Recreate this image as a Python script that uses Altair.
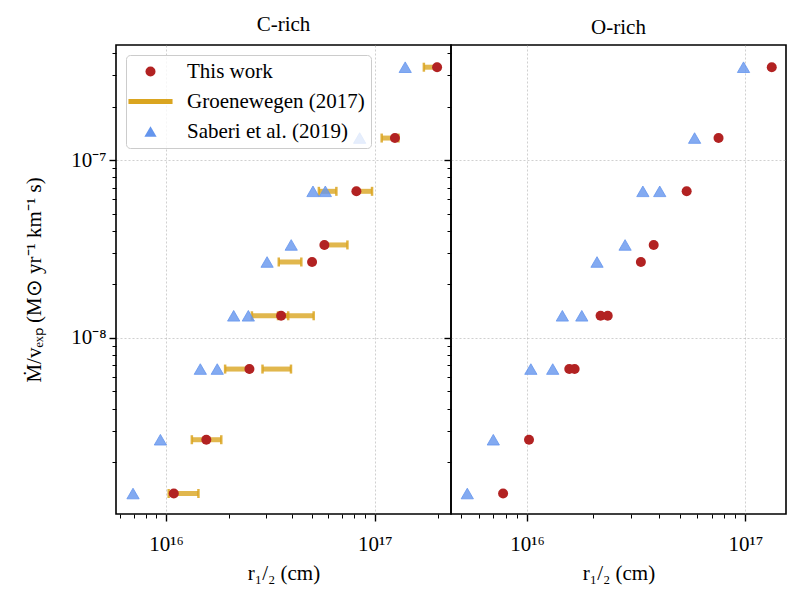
import altair as alt
import pandas as pd

FONT = "Liberation Serif"
FS = 21

SERIES = ["This work", "Groenewegen (2017)", "Saberi et al. (2019)"]
COLORS = ["#b22222", "#daa520", "#6495ed"]
RED, GOLD, BLUE = COLORS

# ---------------- C-rich panel ----------------
c_this_x = [1.09e16, 1.56e16, 2.51e16, 3.56e16, 5.01e16, 5.74e16, 8.17e16, 1.25e17, 1.99e17]
c_this_y = [1.33e-9, 2.67e-9, 6.67e-9, 1.33e-8, 2.67e-8, 3.33e-8, 6.67e-8, 1.33e-7, 3.33e-7]

c_sab_x = [6.95e15, 9.4e15, 1.46e16, 1.76e16, 2.11e16, 2.48e16, 3.05e16, 3.98e16,
           5.06e16, 5.80e16, 8.47e16, 1.40e17]
c_sab_y = [1.33e-9, 2.67e-9, 6.67e-9, 6.67e-9, 1.33e-8, 1.33e-8, 2.67e-8, 3.33e-8,
           6.67e-8, 6.67e-8, 1.33e-7, 3.33e-7]

c_gro_lo = [1.03e16, 1.33e16, 1.92e16, 2.90e16, 2.58e16, 3.44e16, 3.47e16, 5.74e16,
            5.40e16, 8.17e16, 1.08e17, 1.72e17]
c_gro_hi = [1.43e16, 1.84e16, 2.51e16, 3.97e16, 3.85e16, 5.10e16, 4.45e16, 7.40e16,
            6.55e16, 9.71e16, 1.30e17, 1.99e17]
c_gro_y = [1.33e-9, 2.67e-9, 6.67e-9, 6.67e-9, 1.33e-8, 1.33e-8, 2.67e-8, 3.33e-8,
           6.67e-8, 6.67e-8, 1.33e-7, 3.33e-7]

# ---------------- O-rich panel ----------------
o_this_x = [7.76e15, 1.02e16, 1.56e16, 1.65e16, 2.17e16, 2.34e16, 3.32e16, 3.80e16,
            5.38e16, 7.53e16, 1.32e17]
o_this_y = [1.33e-9, 2.67e-9, 6.67e-9, 6.67e-9, 1.33e-8, 1.33e-8, 2.67e-8, 3.33e-8,
            6.67e-8, 1.33e-7, 3.33e-7]

o_sab_x = [5.32e15, 7.0e15, 1.04e16, 1.31e16, 1.45e16, 1.78e16, 2.09e16, 2.81e16,
           3.39e16, 4.05e16, 5.85e16, 9.8e16]
o_sab_y = [1.33e-9, 2.67e-9, 6.67e-9, 6.67e-9, 1.33e-8, 1.33e-8, 2.67e-8, 3.33e-8,
           6.67e-8, 6.67e-8, 1.33e-7, 3.33e-7]

# ---------------- axes ----------------
X_DOMAIN_C = [5.76e15, 2.32e17]
X_DOMAIN_O = [4.48e15, 1.534e17]
Y_DOMAIN = [1.02e-9, 4.44e-7]


def log_ticks(domain, exps):
    out = []
    for e in exps:
        for m in range(1, 10):
            v = float(f"{m}e{e}")
            if domain[0] <= v <= domain[1]:
                out.append(v)
    return out


x_ticks_c = log_ticks(X_DOMAIN_C, [15, 16, 17])
x_ticks_o = log_ticks(X_DOMAIN_O, [15, 16, 17])
y_ticks = log_ticks(Y_DOMAIN, [-9, -8, -7])

E = "round(log(datum.value)/LN10)"
MAJ = f"abs(log(datum.value)/LN10 - {E}) < 0.001"
LABEL = (f"!({MAJ}) ? '' : {E} == 16 ? '10¹⁶' : {E} == 17 ? '10¹⁷' : "
         f"{E} == -7 ? '10⁻⁷' : {E} == -8 ? '10⁻⁸' : {E} == -9 ? '10⁻⁹' : ''")

tick_common = dict(
    tickSize={"condition": {"test": MAJ, "value": 7}, "value": 4},
    tickWidth={"condition": {"test": MAJ, "value": 1.4}, "value": 1},
    gridOpacity={"condition": {"test": MAJ, "value": 1}, "value": 0},
    labelOverlap=False,
    domain=False,
)

X_TITLE = "r₁/₂ (cm)"
Y_TITLE = "Ṁ/vₑₓₚ (M⊙ yr⁻¹ km⁻¹ s)"


def xax(ticks):
    return alt.Axis(values=ticks, labelExpr=LABEL, title=X_TITLE, labelPadding=12,
                    titlePadding=8, **tick_common)


y_axis_left = alt.Axis(values=y_ticks, labelExpr=LABEL, title=Y_TITLE, labelPadding=3,
                       titlePadding=26, **tick_common)
y_axis_right = alt.Axis(values=y_ticks, labels=False, title=None, **tick_common)

LOGY = alt.Scale(type="log", domain=Y_DOMAIN, nice=False)

LINE_SYMBOL = "M-3.6,0H3.6"


def panel(title, xdom, xticks, this_x, this_y, sab_x, sab_y, yaxis, gro=None, legend=False):
    xs = alt.Scale(type="log", domain=xdom, nice=False)
    xa = xax(xticks)
    layers = []
    if gro is not None:
        lo, hi, gy = gro
        dg = pd.DataFrame({"lo": lo, "hi": hi, "y": gy})
        base = alt.Chart(dg)
        layers.append(base.mark_rule(color=GOLD, strokeWidth=5, opacity=0.8).encode(
            x=alt.X("lo:Q", scale=xs, axis=xa), x2="hi:Q",
            y=alt.Y("y:Q", scale=LOGY, axis=yaxis)))
        for col in ("lo", "hi"):
            layers.append(base.mark_tick(orient="vertical", color=GOLD, thickness=2.5,
                                         size=9, opacity=0.85).encode(
                x=alt.X(f"{col}:Q", scale=xs, axis=xa),
                y=alt.Y("y:Q", scale=LOGY, axis=yaxis)))
    ds = pd.DataFrame({"x": sab_x, "y": sab_y})
    layers.append(alt.Chart(ds).mark_point(
        shape="triangle-up", filled=True, size=150, fill=BLUE, stroke=BLUE,
        strokeWidth=1, fillOpacity=0.8, strokeOpacity=0.8, opacity=1).encode(
        x=alt.X("x:Q", scale=xs, axis=xa), y=alt.Y("y:Q", scale=LOGY, axis=yaxis)))
    dt = pd.DataFrame({"x": this_x, "y": this_y, "series": SERIES[0]})
    enc = dict(x=alt.X("x:Q", scale=xs, axis=xa), y=alt.Y("y:Q", scale=LOGY, axis=yaxis))
    if legend:
        lg = alt.Legend(title=None, orient="top-left", offset=10, labelFont=FONT,
                        labelFontSize=FS, labelColor="black", padding=6, rowPadding=8,
                        labelOffset=26, symbolOffset=8, labelLimit=400,
                        fillColor="rgba(255,255,255,0.8)",
                        strokeColor="#cccccc", cornerRadius=4, symbolOpacity=1)
        enc.update(
            fill=alt.Fill("series:N", scale=alt.Scale(domain=SERIES, range=COLORS), legend=lg),
            stroke=alt.Stroke("series:N", scale=alt.Scale(domain=SERIES, range=COLORS), legend=lg),
            shape=alt.Shape("series:N", scale=alt.Scale(domain=SERIES,
                            range=["circle", LINE_SYMBOL, "triangle-up"]), legend=lg),
            size=alt.Size("series:N", scale=alt.Scale(type="ordinal", domain=SERIES,
                          range=[100, 150, 150]), legend=lg),
            strokeWidth=alt.StrokeWidth("series:N", scale=alt.Scale(type="ordinal", domain=SERIES,
                                        range=[0, 5, 0]), legend=lg),
        )
        layers.append(alt.Chart(dt).mark_point(filled=True, opacity=1).encode(**enc))
    else:
        layers.append(alt.Chart(dt).mark_point(shape="circle", filled=True, size=100,
                                               color=RED, opacity=1).encode(**enc))
    return alt.layer(*layers).properties(
        width=335, height=469,
        title=alt.TitleParams(title, font=FONT, fontSize=FS, fontWeight="normal",
                              offset=7, anchor="middle", color="black"))


left = panel("C-rich", X_DOMAIN_C, x_ticks_c, c_this_x, c_this_y, c_sab_x, c_sab_y,
             y_axis_left, gro=(c_gro_lo, c_gro_hi, c_gro_y), legend=True)
right = panel("O-rich", X_DOMAIN_O, x_ticks_o, o_this_x, o_this_y, o_sab_x, o_sab_y,
              y_axis_right)

chans = ["fill", "stroke", "shape", "size", "strokeWidth"]
chart = alt.hconcat(left, right, spacing=0, bounds="flush").resolve_scale(
    **{c: "independent" for c in chans}).resolve_legend(
    **{c: "independent" for c in chans}).properties(
    padding={"left": 14, "top": 5, "right": 5, "bottom": 5},
    background="white",
).configure_axis(
    labelFont=FONT, labelFontSize=FS, titleFont=FONT, titleFontSize=FS,
    titleFontWeight="normal", tickColor="black", labelColor="black", titleColor="black",
    gridColor="#b0b0b0", gridDash=[2, 2], gridWidth=0.6,
).configure_view(stroke="black", strokeWidth=1.6)

chart.save("out.html", embed_options={"renderer": "svg", "actions": False})
